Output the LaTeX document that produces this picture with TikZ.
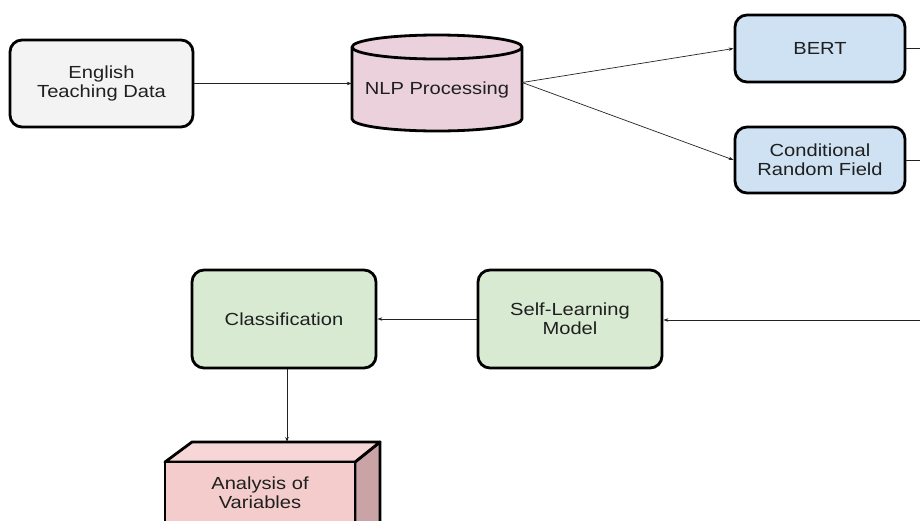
\documentclass[tikz,border=0pt]{standalone}
\usepackage{fontspec}
\setmainfont{Liberation Sans}[FakeStretch=1.15]
\usetikzlibrary{arrows.meta}
\definecolor{grayfill}{HTML}{F3F3F3}
\definecolor{pinkfill}{HTML}{EAD1DC}
\definecolor{bluefill}{HTML}{CFE2F3}
\definecolor{greenfill}{HTML}{D9EAD3}
\definecolor{cubefront}{HTML}{F4CCCC}
\definecolor{cubetop}{HTML}{F6D6D6}
\definecolor{cubeside}{HTML}{C9A3A5}
\definecolor{linecol}{HTML}{222222}
\definecolor{textcol}{HTML}{1F1F1F}
\begin{document}
\begin{tikzpicture}[x=1pt,y=-1pt,
  box/.style={draw=black, line width=2.8pt, rounded corners=12pt, align=center,
    font=\fontsize{17.5}{19}\selectfont, inner sep=0pt, text=textcol},
  lbl/.style={align=center, font=\fontsize{17.5}{19}\selectfont, inner sep=0pt, text=textcol},
  conn/.style={draw=linecol, line width=0.7pt, -{Stealth[length=5pt,width=3.5pt]}},
  plain/.style={draw=linecol, line width=0.7pt},
  solid3d/.style={draw=black, line width=2.8pt, line join=round}]
\useasboundingbox (0,0) rectangle (920,520);
\clip (0,0) rectangle (920,520);

% boxes
\node[box, fill=grayfill, minimum width=183pt, minimum height=87pt] (etd) at (101.5,83.5) {English\\Teaching Data};
\node[box, fill=bluefill, minimum width=170pt, minimum height=67pt] (bert) at (820,48.5) {BERT};
\node[box, fill=bluefill, minimum width=170pt, minimum height=66pt] (crf) at (820,160) {Conditional\\Random Field};
\node[box, fill=greenfill, minimum width=184pt, minimum height=98pt] (slm) at (570,319) {Self-Learning\\Model};
\node[box, fill=greenfill, minimum width=184pt, minimum height=98pt] (cls) at (284,319) {Classification};

% cylinder
\node[minimum width=170pt, minimum height=95pt, inner sep=0pt] (nlp) at (437,82.5) {};
\draw[solid3d, fill=pinkfill] (352,47) -- (352,119)
  arc[start angle=180, end angle=360, x radius=85pt, y radius=12pt]
  -- (522,47)
  arc[start angle=0, end angle=180, x radius=85pt, y radius=12pt] -- cycle;
\draw[solid3d] (352,47) arc[start angle=180, end angle=360, x radius=85pt, y radius=12pt];
\node[lbl] (nlptext) at (437,90) {NLP Processing};

% cube
\draw[solid3d, fill=cubeside] (355,462) -- (380,442) -- (380,560) -- (355,580) -- cycle;
\draw[solid3d, fill=cubetop] (165,462) -- (192,442) -- (380,442) -- (355,462) -- cycle;
\draw[solid3d, fill=cubefront] (165,462) rectangle (355,580);
\node[lbl] (aov) at (260,493) {Analysis of\\Variables};
\coordinate (cubetopc) at (287,442);

% off-picture coordinates
\coordinate (offbert) at (925,48.5);
\coordinate (offcrf) at (925,160);
\coordinate (offslm) at (925,320);

% connectors
\draw[conn] (etd.east) -- (etd.east -| nlp.west);
\draw[conn] (nlp.east) -- (bert.west);
\draw[conn] (nlp.east) -- (crf.west);
\draw[plain] (bert.east) -- (offbert);
\draw[plain] (crf.east) -- (offcrf);
\draw[conn] (offslm) -- (slm.east |- offslm);
\draw[conn] (slm.west) -- (cls.east);
\draw[conn] (cls.south -| cubetopc) -- (cubetopc);
\end{tikzpicture}
\end{document}
